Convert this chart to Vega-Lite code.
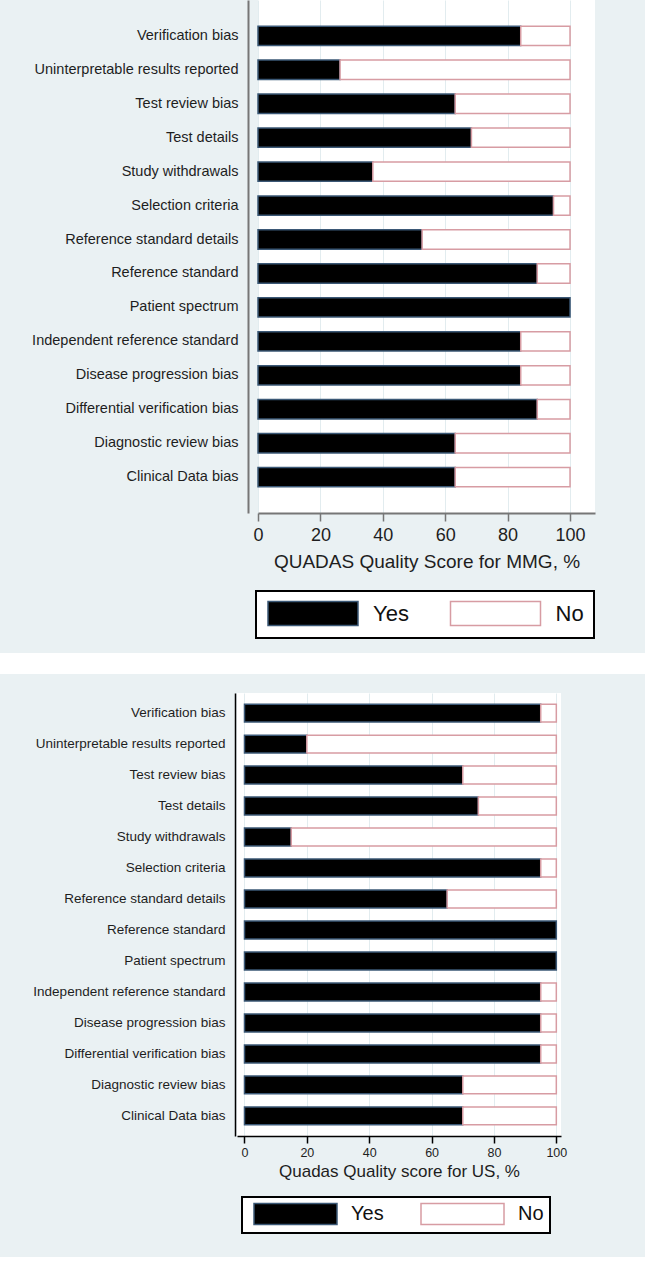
{
  "$schema": "https://vega.github.io/schema/vega-lite/v6.json",
  "background": "#eaf1f3",
  "padding": {"left": 0, "top": 0, "right": 0, "bottom": 23},
  "config": {
    "font": "Liberation Sans",
    "view": {"stroke": null},
    "legend": {"strokeWidth": 2}
  },
  "datasets": {
    "mmg": [
      {"item": "Verification bias", "answer": "Yes", "pct": 84.2},
      {"item": "Verification bias", "answer": "No", "pct": 15.8},
      {"item": "Uninterpretable results reported", "answer": "Yes", "pct": 26.3},
      {"item": "Uninterpretable results reported", "answer": "No", "pct": 73.7},
      {"item": "Test review bias", "answer": "Yes", "pct": 63.2},
      {"item": "Test review bias", "answer": "No", "pct": 36.8},
      {"item": "Test details", "answer": "Yes", "pct": 68.4},
      {"item": "Test details", "answer": "No", "pct": 31.6},
      {"item": "Study withdrawals", "answer": "Yes", "pct": 36.8},
      {"item": "Study withdrawals", "answer": "No", "pct": 63.2},
      {"item": "Selection criteria", "answer": "Yes", "pct": 94.7},
      {"item": "Selection criteria", "answer": "No", "pct": 5.3},
      {"item": "Reference standard details", "answer": "Yes", "pct": 52.6},
      {"item": "Reference standard details", "answer": "No", "pct": 47.4},
      {"item": "Reference standard", "answer": "Yes", "pct": 89.5},
      {"item": "Reference standard", "answer": "No", "pct": 10.5},
      {"item": "Patient spectrum", "answer": "Yes", "pct": 100},
      {"item": "Independent reference standard", "answer": "Yes", "pct": 84.2},
      {"item": "Independent reference standard", "answer": "No", "pct": 15.8},
      {"item": "Disease progression bias", "answer": "Yes", "pct": 84.2},
      {"item": "Disease progression bias", "answer": "No", "pct": 15.8},
      {"item": "Differential verification bias", "answer": "Yes", "pct": 89.5},
      {"item": "Differential verification bias", "answer": "No", "pct": 10.5},
      {"item": "Diagnostic review bias", "answer": "Yes", "pct": 63.2},
      {"item": "Diagnostic review bias", "answer": "No", "pct": 36.8},
      {"item": "Clinical Data bias", "answer": "Yes", "pct": 63.2},
      {"item": "Clinical Data bias", "answer": "No", "pct": 36.8}
    ],
    "us": [
      {"item": "Verification bias", "answer": "Yes", "pct": 95},
      {"item": "Verification bias", "answer": "No", "pct": 5},
      {"item": "Uninterpretable results reported", "answer": "Yes", "pct": 20},
      {"item": "Uninterpretable results reported", "answer": "No", "pct": 80},
      {"item": "Test review bias", "answer": "Yes", "pct": 70},
      {"item": "Test review bias", "answer": "No", "pct": 30},
      {"item": "Test details", "answer": "Yes", "pct": 75},
      {"item": "Test details", "answer": "No", "pct": 25},
      {"item": "Study withdrawals", "answer": "Yes", "pct": 15},
      {"item": "Study withdrawals", "answer": "No", "pct": 85},
      {"item": "Selection criteria", "answer": "Yes", "pct": 95},
      {"item": "Selection criteria", "answer": "No", "pct": 5},
      {"item": "Reference standard details", "answer": "Yes", "pct": 65},
      {"item": "Reference standard details", "answer": "No", "pct": 35},
      {"item": "Reference standard", "answer": "Yes", "pct": 100},
      {"item": "Patient spectrum", "answer": "Yes", "pct": 100},
      {"item": "Independent reference standard", "answer": "Yes", "pct": 95},
      {"item": "Independent reference standard", "answer": "No", "pct": 5},
      {"item": "Disease progression bias", "answer": "Yes", "pct": 95},
      {"item": "Disease progression bias", "answer": "No", "pct": 5},
      {"item": "Differential verification bias", "answer": "Yes", "pct": 95},
      {"item": "Differential verification bias", "answer": "No", "pct": 5},
      {"item": "Diagnostic review bias", "answer": "Yes", "pct": 70},
      {"item": "Diagnostic review bias", "answer": "No", "pct": 30},
      {"item": "Clinical Data bias", "answer": "Yes", "pct": 70},
      {"item": "Clinical Data bias", "answer": "No", "pct": 30}
    ]
  },
  "spacing": 14,
  "resolve": {"scale": {"fill": "independent", "stroke": "independent"}, "legend": {"fill": "independent", "stroke": "independent"}},
  "vconcat": [
    {
      "bounds": "flush",
      "spacing": 0,
      "resolve": {"scale": {"fill": "independent", "stroke": "independent"}, "legend": {"fill": "independent", "stroke": "independent"}},
      "hconcat": [
        {"width": 258, "height": 10, "data": {"values": []}, "mark": "point", "encoding": {}},
        {
          "width": 337,
          "height": 513,
          "data": {"name": "mmg"},
          "view": {"fill": "white", "stroke": null},
          "mark": {"type": "bar", "strokeWidth": 1.5},
          "encoding": {
            "y": {
              "field": "item", "type": "nominal", "sort": null,
              "scale": {"paddingInner": 0.43, "paddingOuter": 0.77},
              "axis": {"title": null, "offset": 10, "minExtent": 248, "domainColor": "#767676", "domainWidth": 2, "ticks": false, "tickSize": 0, "labelPadding": 10, "labelFontSize": 14.5, "labelColor": "#1e1e1e", "labelLimit": 400, "grid": false}
            },
            "x": {
              "field": "pct", "type": "quantitative", "stack": "zero",
              "scale": {"domain": [0, 108], "nice": false, "zero": false},
              "axis": {"values": [0, 20, 40, 60, 80, 100], "title": "QUADAS Quality Score for MMG, %", "grid": true, "gridColor": "#e2ecef", "domainColor": "#767676", "domainWidth": 2, "tickColor": "#767676", "tickWidth": 1.5, "tickSize": 8, "labelFontSize": 18, "labelPadding": 5, "labelFlush": false, "labelColor": "#1e1e1e", "titleFontSize": 19, "titleFontWeight": "normal", "titleColor": "#1e1e1e", "titlePadding": 8}
            },
            "order": {"field": "answer", "sort": "descending"},
            "fill": {
              "field": "answer", "type": "nominal", "sort": ["Yes", "No"],
              "scale": {"domain": ["Yes", "No"], "range": ["#000000", "#ffffff"]},
              "legend": {"orient": "none", "legendX": -2, "legendY": 591, "direction": "horizontal", "columns": 2, "gridAlign": "all", "title": null, "symbolType": "M-0.875,-1H6.625V1H-0.875Z", "symbolSize": 576, "symbolStrokeWidth": 1.5, "labelFontSize": 22, "labelOffset": 81.5, "labelColor": "#111111", "columnPadding": 37.5, "padding": 9.5, "fillColor": "white", "strokeColor": "black", "cornerRadius": 0}
            },
            "stroke": {
              "field": "answer", "type": "nominal", "sort": ["Yes", "No"],
              "scale": {"domain": ["Yes", "No"], "range": ["#3b5876", "#d79ca3"]},
              "legend": {"orient": "none", "legendX": -2, "legendY": 591, "direction": "horizontal", "columns": 2, "gridAlign": "all", "title": null, "symbolType": "M-0.875,-1H6.625V1H-0.875Z", "symbolSize": 576, "symbolStrokeWidth": 1.5, "labelFontSize": 22, "labelOffset": 81.5, "labelColor": "#111111", "columnPadding": 37.5, "padding": 9.5, "fillColor": "white", "strokeColor": "black", "cornerRadius": 0}
            }
          }
        }
      ]
    },
    {
      "spacing": 19,
      "resolve": {"scale": {"fill": "independent", "stroke": "independent"}, "legend": {"fill": "independent", "stroke": "independent"}},
      "vconcat": [
        {
          "width": 645,
          "height": 21,
          "data": {"values": []},
          "view": {"fill": "white", "stroke": null},
          "mark": "point",
          "encoding": {}
        },
        {
          "bounds": "flush",
          "spacing": 0,
          "resolve": {"scale": {"fill": "independent", "stroke": "independent"}, "legend": {"fill": "independent", "stroke": "independent"}},
          "hconcat": [
            {"width": 237, "height": 10, "data": {"values": []}, "mark": "point", "encoding": {}},
            {
              "width": 324,
              "height": 443,
              "data": {"name": "us"},
              "view": {"fill": "white", "stroke": null},
              "mark": {"type": "bar", "strokeWidth": 1.5},
              "encoding": {
                "y": {
                  "field": "item", "type": "nominal", "sort": null,
                  "scale": {"paddingInner": 0.42, "paddingOuter": 0.36},
                  "axis": {"title": null, "offset": 2, "minExtent": 235, "domainColor": "#000000", "domainWidth": 1.5, "ticks": false, "tickSize": 0, "labelPadding": 10, "labelFontSize": 13.5, "labelColor": "#1e1e1e", "labelLimit": 400, "grid": false}
                },
                "x": {
                  "field": "pct", "type": "quantitative", "stack": "zero",
                  "scale": {"domain": [-2.4, 101.5], "nice": false, "zero": false},
                  "axis": {"values": [0, 20, 40, 60, 80, 100], "title": "Quadas Quality score for US, %", "grid": true, "gridColor": "#e2ecef", "domainColor": "#000000", "domainWidth": 1.5, "tickColor": "#000000", "tickWidth": 1.5, "tickSize": 7, "labelFontSize": 12.5, "labelPadding": 3, "labelFlush": false, "labelColor": "#1e1e1e", "titleFontSize": 17, "titleFontWeight": "normal", "titleColor": "#1e1e1e", "titlePadding": 5}
                },
                "order": {"field": "answer", "sort": "descending"},
                "fill": {
                  "field": "answer", "type": "nominal", "sort": ["Yes", "No"],
                  "scale": {"domain": ["Yes", "No"], "range": ["#000000", "#ffffff"]},
                  "legend": {"orient": "none", "legendX": 5, "legendY": 504, "direction": "horizontal", "columns": 2, "gridAlign": "all", "title": null, "symbolType": "M-0.476,-1H7.429V1H-0.476Z", "symbolSize": 441, "symbolStrokeWidth": 1.5, "labelFontSize": 20, "labelOffset": 80.5, "labelColor": "#111111", "labelExpr": "datum.label == 'No' ? 'No ' : datum.label", "columnPadding": 30, "padding": 5.5, "fillColor": "white", "strokeColor": "black", "cornerRadius": 0}
                },
                "stroke": {
                  "field": "answer", "type": "nominal", "sort": ["Yes", "No"],
                  "scale": {"domain": ["Yes", "No"], "range": ["#3b5876", "#d79ca3"]},
                  "legend": {"orient": "none", "legendX": 5, "legendY": 504, "direction": "horizontal", "columns": 2, "gridAlign": "all", "title": null, "symbolType": "M-0.476,-1H7.429V1H-0.476Z", "symbolSize": 441, "symbolStrokeWidth": 1.5, "labelFontSize": 20, "labelOffset": 80.5, "labelColor": "#111111", "labelExpr": "datum.label == 'No' ? 'No ' : datum.label", "columnPadding": 30, "padding": 5.5, "fillColor": "white", "strokeColor": "black", "cornerRadius": 0}
                }
              }
            }
          ]
        }
      ]
    }
  ]
}
